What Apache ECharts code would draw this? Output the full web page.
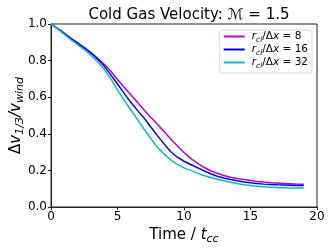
<!DOCTYPE html>
<html><head><meta charset="utf-8">
<script src="https://cdn.jsdelivr.net/npm/echarts@6/dist/echarts.min.js"></script>
<style>html,body{margin:0;padding:0;background:#fff}#c{width:332px;height:249px}</style>
</head><body><div id="c"></div>
<script>
const times = [0,0.5,1,1.5,2,2.5,3,3.5,4,4.5,5,5.5,6,6.5,7,7.5,8,8.5,9,9.5,10,10.5,11,11.5,12,12.5,13,13.5,14,14.5,15,15.5,16,16.5,17,17.5,18,18.5,19];
const res8  = [1.0,0.975,0.95,0.922,0.897,0.871,0.844,0.814,0.78,0.742,0.697,0.654,0.613,0.572,0.53,0.49,0.452,0.413,0.372,0.335,0.298,0.266,0.24,0.217,0.198,0.184,0.172,0.163,0.156,0.15,0.145,0.14,0.136,0.133,0.131,0.129,0.127,0.125,0.124];
const res16 = [1.0,0.975,0.948,0.92,0.895,0.869,0.842,0.809,0.77,0.722,0.672,0.621,0.572,0.528,0.487,0.437,0.39,0.345,0.302,0.272,0.25,0.232,0.215,0.198,0.182,0.168,0.158,0.15,0.143,0.137,0.132,0.128,0.125,0.123,0.121,0.12,0.119,0.118,0.118];
const res32 = [1.0,0.972,0.943,0.914,0.887,0.86,0.83,0.795,0.752,0.7,0.64,0.584,0.53,0.478,0.425,0.374,0.327,0.29,0.257,0.233,0.214,0.2,0.185,0.172,0.161,0.152,0.143,0.135,0.128,0.122,0.117,0.113,0.11,0.108,0.106,0.105,0.104,0.104,0.104];
const seriesNames = ['8','16','32'];
const xTicks = [0,5,10,15,20];
const yTicks = [0.0,0.2,0.4,0.6,0.8,1.0];

const colors = ['#bf00bf','#0000ff','#00bfbf'];
const all = [res8,res16,res32];
const font = 'DejaVu Sans';
const chart = echarts.init(document.getElementById('c'), null, {renderer:'canvas'});
chart.setOption({
  animation:false,
  backgroundColor:'#fff',
  title:{
    text:'Cold Gas Velocity: ℳ = 1.5',
    left:184, top:3, textAlign:'center',
    textStyle:{fontFamily:font,fontSize:15,fontWeight:'normal',color:'#000'}
  },
  grid:{left:51,right:15,top:24,bottom:42,show:true,borderColor:'#222',borderWidth:1,backgroundColor:'transparent',outerBoundsMode:'none',containLabel:false},
  legend:{
    right:20, top:30, orient:'vertical',
    backgroundColor:'#fff', borderColor:'#d8d8d8', borderWidth:1, borderRadius:3,
    padding:[1,4,3,4], itemGap:0, itemWidth:21, itemHeight:2,
    icon:'rect',
    data:seriesNames.map(n=>'r_cl/Δx = '+n),
    formatter:function(name){ const v=name.split('= ')[1]; return '{i|r}{s|cl}{n|/Δ}{i|x}{n| = '+v+'}'; },
    textStyle:{fontFamily:font,fontSize:10,color:'#000',padding:[0,0,0,2],
      rich:{
        i:{fontFamily:font,fontSize:10.5,fontStyle:'italic',color:'#000',lineHeight:15},
        n:{fontFamily:font,fontSize:10.5,color:'#000',lineHeight:15},
        s:{fontFamily:font,fontSize:7.5,fontStyle:'italic',color:'#000',lineHeight:9,verticalAlign:'bottom'}
      }}
  },
  xAxis:{
    type:'value',min:0,max:20,interval:5,
    axisLine:{show:true,lineStyle:{color:'#222',width:1}},
    axisTick:{show:true,inside:false,length:3,lineStyle:{color:'#222'}},
    splitLine:{show:false},
    axisLabel:{fontFamily:font,fontSize:12,color:'#000',margin:4,
      formatter:function(v){return xTicks.indexOf(v)>=0?String(v):'';}},
    name:'{n|Time / }{i|t}{s|cc}',
    nameLocation:'middle', nameGap:18, nameMoveOverlap:false,
    nameTextStyle:{rich:{
      n:{fontFamily:font,fontSize:15,color:'#000',lineHeight:20},
      i:{fontFamily:font,fontSize:15,fontStyle:'italic',color:'#000',lineHeight:20},
      s:{fontFamily:font,fontSize:11,fontStyle:'italic',color:'#000',lineHeight:12,verticalAlign:'bottom'}
    }}
  },
  yAxis:{
    type:'value',min:0,max:1,interval:0.2,
    axisLine:{show:true,lineStyle:{color:'#222',width:1}},
    axisTick:{show:true,inside:false,length:3,lineStyle:{color:'#222'}},
    splitLine:{show:false},
    axisLabel:{fontFamily:font,fontSize:12,color:'#000',margin:4,
      formatter:function(v){return v.toFixed(1);}},
    name:'{n|Δ}{i|v}{s|1/3}{i|/v}{s|wind}',
    nameLocation:'middle', nameGap:25, nameRotate:90, nameMoveOverlap:false,
    nameTextStyle:{rich:{
      n:{fontFamily:font,fontSize:15,color:'#000',lineHeight:20},
      i:{fontFamily:font,fontSize:15,fontStyle:'italic',color:'#000',lineHeight:20},
      s:{fontFamily:font,fontSize:11,fontStyle:'italic',color:'#000',lineHeight:12,verticalAlign:'bottom'}
    }}
  },
  series: all.map((arr,k)=>({
    name:'r_cl/Δx = '+seriesNames[k], type:'line', showSymbol:false, symbol:'none',
    data: times.map((t,i)=>[t,arr[i]]),
    lineStyle:{color:colors[k],width:1.5}, itemStyle:{color:colors[k]}
  }))
});
</script></body></html>
